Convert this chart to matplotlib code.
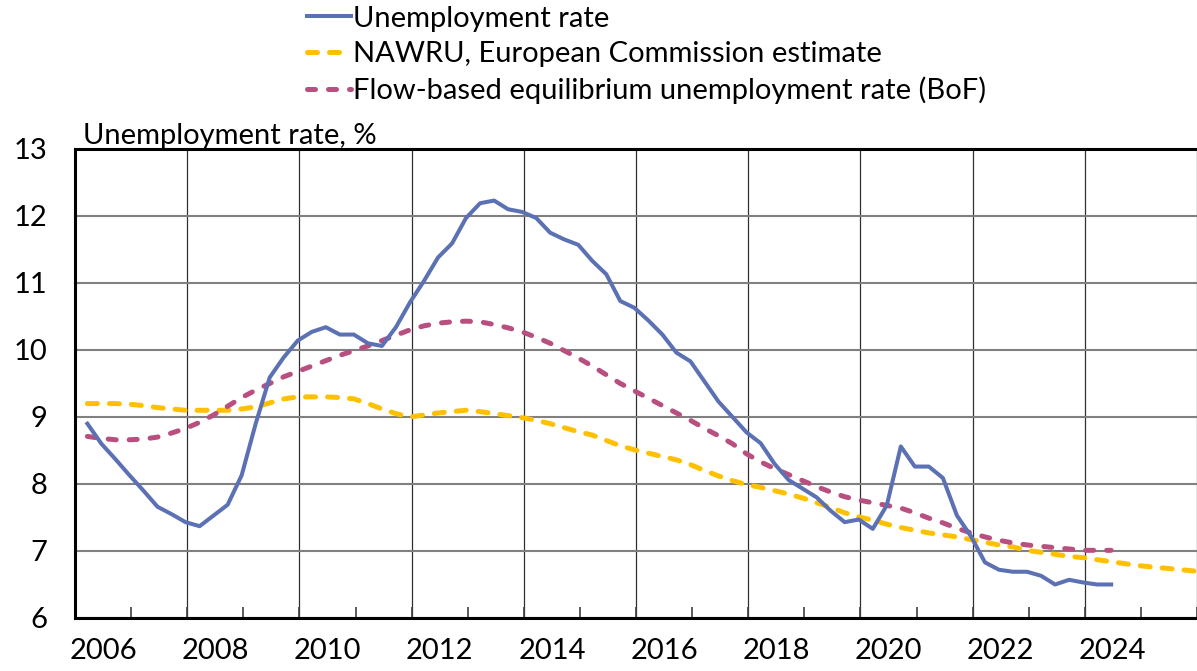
import numpy as np
import matplotlib
matplotlib.use("Agg")
import matplotlib.pyplot as plt

plt.rcParams['font.family'] = ['Lato', 'DejaVu Sans']

# quarterly positions (2006Q1 onwards)
unemp = [8.90, 8.60, 8.37, 8.13, 7.90, 7.66, 7.55, 7.43, 7.37, 7.53, 7.69, 8.13,
         8.90, 9.59, 9.89, 10.14, 10.27, 10.34, 10.23, 10.23, 10.10, 10.06, 10.34, 10.71,
         11.03, 11.38, 11.59, 11.97, 12.19, 12.23, 12.10, 12.06, 11.97, 11.75, 11.65, 11.57,
         11.33, 11.13, 10.73, 10.63, 10.44, 10.23, 9.96, 9.83, 9.53, 9.23, 9.00, 8.77,
         8.61, 8.30, 8.06, 7.93, 7.80, 7.60, 7.43, 7.47, 7.33, 7.68, 8.56, 8.26,
         8.26, 8.09, 7.53, 7.22, 6.83, 6.72, 6.69, 6.69, 6.63, 6.50, 6.57, 6.53,
         6.50, 6.50]

bof = [8.71, 8.68, 8.66, 8.66, 8.67, 8.70, 8.76, 8.83, 8.92, 9.03, 9.16, 9.29,
       9.40, 9.50, 9.60, 9.68, 9.76, 9.84, 9.92, 9.99, 10.06, 10.14, 10.22, 10.30,
       10.36, 10.40, 10.42, 10.43, 10.42, 10.38, 10.33, 10.27, 10.19, 10.10, 9.99, 9.88,
       9.76, 9.63, 9.50, 9.39, 9.28, 9.17, 9.06, 8.95, 8.83, 8.72, 8.60, 8.45,
       8.33, 8.23, 8.14, 8.05, 7.96, 7.88, 7.81, 7.76, 7.72, 7.68, 7.64, 7.57,
       7.49, 7.42, 7.34, 7.27, 7.21, 7.16, 7.12, 7.09, 7.07, 7.05, 7.03, 7.01,
       7.01, 7.01]

nawru = [9.20, 9.20, 9.20, 9.19, 9.17, 9.14, 9.12, 9.10, 9.10, 9.10, 9.10, 9.12,
         9.15, 9.21, 9.27, 9.30, 9.30, 9.30, 9.29, 9.27, 9.20, 9.12, 9.05, 9.00,
         9.03, 9.06, 9.08, 9.10, 9.08, 9.05, 9.02, 8.99, 8.95, 8.90, 8.84, 8.78,
         8.73, 8.65, 8.57, 8.51, 8.46, 8.41, 8.36, 8.29, 8.20, 8.12, 8.05, 7.99,
         7.95, 7.90, 7.85, 7.79, 7.72, 7.65, 7.57, 7.51, 7.46, 7.40, 7.35, 7.31,
         7.27, 7.24, 7.21, 7.17, 7.13, 7.09, 7.06, 7.01, 6.98, 6.95, 6.92, 6.90,
         6.87, 6.84, 6.81, 6.78, 6.76, 6.74, 6.72, 6.70]

year_labels = [2006, 2008, 2010, 2012, 2014, 2016, 2018, 2020, 2022, 2024]

t_unemp = 2006.22 + 0.25 * np.arange(len(unemp))
t_bof = 2006.22 + 0.25 * np.arange(len(bof))
t_nawru = 2006.22 + 0.25 * np.arange(len(nawru))

fig = plt.figure(figsize=(11.97, 6.71), dpi=100)
ax = fig.add_axes([0.0627, 0.079, 0.9373, 0.699])

ax.plot(t_unemp, unemp, color='#5b71b4', lw=2.9, label='Unemployment rate', zorder=4)
ax.plot(t_nawru, nawru, color='#ffc000', lw=3.6, dashes=(2.0, 2.4), dash_capstyle='round',
        label='NAWRU, European Commission estimate', zorder=3)
ax.plot(t_bof, bof, color='#b94f7f', lw=3.6, dashes=(1.6, 2.6), dash_capstyle='round',
        label='Flow-based equilibrium unemployment rate (BoF)', zorder=3)

ax.set_xlim(2006, 2026)
ax.set_ylim(6, 13)
ax.set_yticks(range(6, 14))
ax.set_xticks(range(2006, 2027, 2))
ax.set_xticks(range(2007, 2026, 2), minor=True)
ax.set_xticklabels([])
ax.tick_params(axis='x', which='both', direction='in', length=8, width=1.2, color='#404040')
ax.tick_params(axis='y', length=0, pad=20, labelsize=21)

ax.yaxis.grid(True, color='#808080', lw=1.5)
ax.xaxis.grid(True, which='major', color='#303030', lw=0.9)
ax.set_axisbelow(True)

for s in ['left', 'top', 'bottom']:
    ax.spines[s].set_linewidth(2.2)
    ax.spines[s].set_color('black')
ax.spines['right'].set_visible(False)

for yr in year_labels:
    ax.text(yr + 0.5, -0.07, str(yr), transform=ax.get_xaxis_transform(),
            ha='center', va='center', fontsize=21)

ax.text(0.007, 1.0, 'Unemployment rate, %', transform=ax.transAxes,
        ha='left', va='bottom', fontsize=21)

fig.legend(loc='upper left', bbox_to_anchor=(0.247, 1.009), frameon=False,
           fontsize=21, handlelength=1.5, handletextpad=0.05, labelspacing=0.33,
           borderaxespad=0)

fig.savefig('out.png', dpi=100)
